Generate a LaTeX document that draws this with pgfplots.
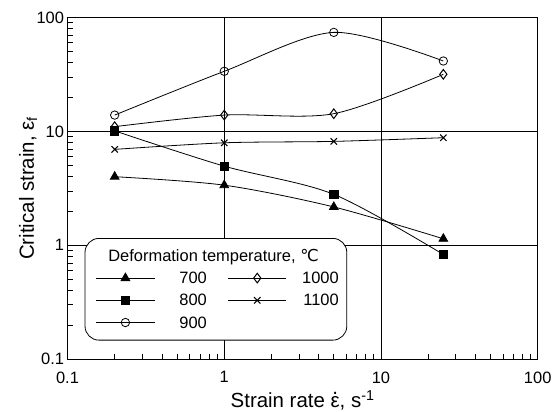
\documentclass[border=0pt]{standalone}
\usepackage{fontspec}
\setmainfont{Liberation Sans}
\newfontfamily\dejavu{DejaVu Sans}
\usepackage{pgfplots}
\pgfplotsset{compat=1.18}
% dotted epsilon for the strain rate label
\newcommand\epsdot{\leavevmode\setbox0\hbox{ε}%
  \hbox to \wd0{\hss\raisebox{0.64em}{\smash{.}}\hss}\kern-\wd0\box0}

\begin{document}
\begin{tikzpicture}
\begin{loglogaxis}[
    name=ax,
    scale only axis,
    width=470bp, height=341.5bp,
    xmin=0.1, xmax=100, ymin=0.1, ymax=100,
    xtick={0.1,1,10,100}, xticklabels={0.1,1,10,100},
    ytick={0.1,1,10,100}, yticklabels={0.1,1,10,100},
    minor xtick={0.2,0.3,0.4,0.5,0.6,0.7,0.8,0.9,2,3,4,5,6,7,8,9,20,30,40,50,60,70,80,90},
    minor ytick={0.2,0.3,0.4,0.5,0.6,0.7,0.8,0.9,2,3,4,5,6,7,8,9,20,30,40,50,60,70,80,90},
    xtick pos=bottom, ytick pos=left,
    tick align=inside,
    major tick length=5bp, minor tick length=5bp,
    xmajorgrids, ymajorgrids,
    xminorgrids=false, yminorgrids=false,
    major grid style={black, line width=0.7bp},
    axis line style={black, line width=1bp},
    every tick/.style={black, line width=0.7bp},
    tick label style={font=\fontsize{16.5}{18}\selectfont},
    xticklabel style={yshift=-9bp},
    xlabel={Strain rate \epsdot, s\textsuperscript{-1}},
    ylabel={Critical strain, ε\textsubscript{f}},
    every axis x label/.style={at={(axis description cs:0.5,-0.143)}, anchor=base,
        font=\fontsize{20.5}{24}\selectfont},
    every axis y label/.style={at={(axis description cs:-0.084,0.5)}, rotate=90, anchor=center,
        font=\fontsize{20.5}{24}\selectfont},
    legend columns=2,
    legend style={
        at={(axis description cs:0.0606,0.2533)}, anchor=north west,
        draw=none, fill=none, inner sep=0pt, outer sep=0pt,
        row sep=11.2bp,
        font=\fontsize{16.5}{18}\selectfont,
        nodes={text width=43bp, align=right, inner sep=0pt, text height=11bp, text depth=0pt},
        /tikz/every even column/.append style={column sep=21bp}
    },
    legend image code/.code={
        \draw[#1, mark repeat=2, mark phase=2] plot coordinates {(0bp,0bp) (29bp,0bp) (58bp,0bp)};
        \path (67bp,0bp);
    },
    every axis plot/.append style={black, line width=0.8bp, smooth},
]
% 700
\addplot[mark=triangle*, mark size=5bp, mark options={solid, fill=black}]
    coordinates {(0.2,4.0) (1,3.37) (5,2.17) (25,1.14)};
\addlegendentry{700}
% 1000
\addplot[mark=diamond, mark size=4.8bp, mark options={solid, fill=white, line width=1bp}]
    coordinates {(0.2,11.0) (1,13.9) (5,14.3) (25,31.7)};
\addlegendentry{1000}
% 800
\addplot[mark=square*, mark size=4.2bp, mark options={solid, fill=black}]
    coordinates {(0.2,10.1) (1,4.95) (5,2.8) (25,0.83)};
\addlegendentry{800}
% 1100
\addplot[mark=x, mark size=4.5bp, mark options={solid, line width=1.1bp}]
    coordinates {(0.2,6.95) (1,7.94) (5,8.17) (25,8.8)};
\addlegendentry{1100}
% 900
\addplot[mark=o, mark size=4.2bp, mark options={solid, fill=white}]
    coordinates {(0.2,13.9) (1,33.7) (5,74) (25,41.5)};
\addlegendentry{900}

\draw[black, line width=0.8bp, rounded corners=14bp, fill=white]
    (rel axis cs:0.0372,0.0556) rectangle (rel axis cs:0.594,0.3534);
\node[anchor=base, font=\fontsize{16.5}{18}\selectfont]
    at (axis description cs:0.3106,0.287) {Deformation temperature, {\dejavu ℃}};
\end{loglogaxis}
\pgfresetboundingbox
\path ([shift={(-67.5bp,-52bp)}]ax.south west) rectangle ([shift={(17.3bp,17.5bp)}]ax.north east);
\end{tikzpicture}
\end{document}
